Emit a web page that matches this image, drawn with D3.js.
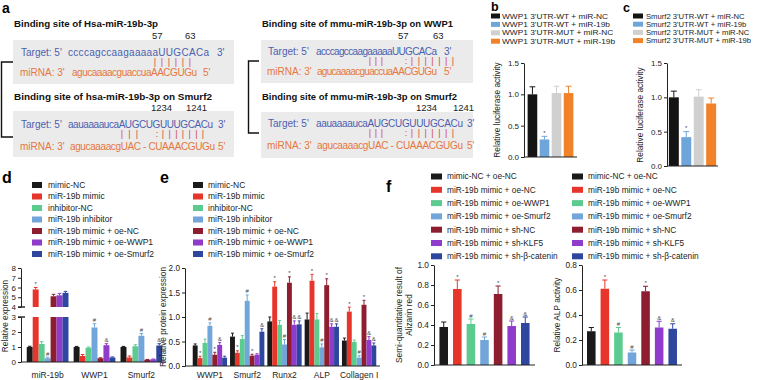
<!DOCTYPE html>
<html><head><meta charset="utf-8">
<script src="https://cdn.jsdelivr.net/npm/d3@7"></script>
<style>body{margin:0;background:#fff}svg{display:block;font-family:Arial,"Liberation Sans",Helvetica,sans-serif}</style>
</head><body><svg id="chart" width="759" height="380"></svg>
<script>
// ---------------- DATA ----------------
// Panel a (binding sites)
const aTitles = ["Binding site of Hsa-miR-19b-3p","Binding site of hsa-miR-19b-3p on Smurf2","Binding site of mmu-miR-19b-3p on WWP1","Binding site of mmu-miR-19b-3p on Smurf2"];
const aPositions = [["57","63"],["1234","1241"],["57","63"],["1234","1241"]];
const aTargets = ["ccccagccaagaaaaaUUGCACa","aauaaaaucaAUGCUGUUUGCACu","acccagccaagaaaaaUUGCACa","aauaaaaucaAUGCUGUUUGCACu"];
const aMirnas = ["agucaaaacguaccuaAACGUGu","agucaaaacgUAC - CUAAACGUGu","agucaaaacguaccuaAACGUGu","agucaaaacgUAC - CUAAACGUGu"];
const aPairs = ["||||||","||| :|||||||","||| :|||||||","||| :|||||||"];

// Panel b / c (luciferase)
const bLegend = ["WWP1 3'UTR-WT + miR-NC","WWP1 3'UTR-WT + miR-19b","WWP1 3'UTR-MUT + miR-NC","WWP1 3'UTR-MUT + miR-19b"];
const bValues = [1.00, 0.28, 1.02, 1.02];
const bErrors = [0.12, 0.05, 0.11, 0.11];
const bSig = ["", "*", "", ""];
const cLegend = ["Smurf2 3'UTR-WT + miR-NC","Smurf2 3'UTR-WT + miR-19b","Smurf2 3'UTR-MUT + miR-NC","Smurf2 3'UTR-MUT + miR-19b"];
const cValues = [1.00, 0.42, 1.01, 0.91];
const cErrors = [0.09, 0.08, 0.10, 0.08];
const cSig = ["", "*", "", ""];
const lucTicks = [0, 0.5, 1.0, 1.5];

// Panel d (relative expression)
const dGroups = ["miR-19b","WWP1","Smurf2"];
const dSeries = ["mimic-NC","miR-19b mimic","inhibitor-NC","miR-19b inhibitor","miR-19b mimic + oe-NC","miR-19b mimic + oe-WWP1","miR-19b mimic + oe-Smurf2"];
const dMiR19b = [1.00, 5.80, 1.20, 0.25, 5.10, 5.20, 5.45];
const dMiR19bErr = [0.05, 0.20, 0.15, 0.07, 0.20, 0.20, 0.15];
const dMiR19bSig = ["", "*", "", "#", "", "", ""];
const dWWP1 = [1.00, 0.40, 0.95, 2.30, 0.25, 1.12, 0.30];
const dWWP1Err = [0.04, 0.10, 0.05, 0.25, 0.03, 0.10, 0.04];
const dWWP1Sig = ["", "", "", "#", "", "&", ""];
const dSmurf2 = [1.00, 0.30, 1.05, 1.75, 0.15, 0.18, 1.10];
const dSmurf2Err = [0.04, 0.10, 0.10, 0.15, 0.02, 0.02, 0.12];
const dSmurf2Sig = ["", "", "", "#", "", "", "&"];
const dTicksLow = [0, 1, 2, 3];
const dTicksHigh = [4, 5, 6, 7, 8];

// Panel e (relative protein expression)
const eGroups = ["WWP1","Smurf2","Runx2","ALP","Collagen I"];
const eSeries = dSeries;
const eWWP1 = [0.42, 0.16, 0.47, 0.82, 0.23, 0.43, 0.17];
const eWWP1Err = [0.03, 0.04, 0.08, 0.06, 0.05, 0.05, 0.03];
const eWWP1Sig = ["", "*", "", "#", "*", "&", ""];
const eSmurf2 = [0.60, 0.27, 0.55, 1.33, 0.21, 0.23, 0.70];
const eSmurf2Err = [0.07, 0.04, 0.07, 0.12, 0.03, 0.02, 0.06];
const eSmurf2Sig = ["", "*", "", "#", "*", "", "&"];
const eRunx2 = [0.91, 1.62, 0.84, 0.44, 1.70, 0.84, 0.85];
const eRunx2Err = [0.09, 0.10, 0.09, 0.10, 0.12, 0.08, 0.07];
const eRunx2Sig = ["", "*", "", "#", "*", "&", "&"];
const eALP = [0.95, 1.74, 0.95, 0.38, 1.65, 0.80, 0.80];
const eALPErr = [0.13, 0.13, 0.12, 0.07, 0.13, 0.06, 0.06];
const eALPSig = ["", "*", "", "#", "*", "&", "&"];
const eCollagen = [0.52, 1.11, 0.49, 0.17, 1.25, 0.53, 0.42];
const eCollagenErr = [0.05, 0.09, 0.04, 0.04, 0.09, 0.07, 0.05];
const eCollagenSig = ["", "*", "", "#", "*", "&", "&"];
const eTicks = [0, 0.5, 1.0, 1.5, 2.0];

// Panel f
const fSeries = ["mimic-NC + oe-NC","miR-19b mimic + oe-NC","miR-19b mimic + oe-WWP1","miR-19b mimic + oe-Smurf2","miR-19b mimic + sh-NC","miR-19b mimic + sh-KLF5","miR-19b mimic + sh-\u03b2-catenin"];
const fAlizarin = [0.38, 0.76, 0.41, 0.25, 0.71, 0.39, 0.42];
const fAlizarinErr = [0.05, 0.09, 0.05, 0.03, 0.08, 0.05, 0.06];
const fAlizarinSig = ["", "*", "#", "#", "*", "&", "&"];
const fALP = [0.27, 0.61, 0.26, 0.10, 0.59, 0.30, 0.29];
const fALPErr = [0.03, 0.07, 0.04, 0.02, 0.04, 0.05, 0.04];
const fALPSig = ["", "*", "#", "#", "*", "&", "&"];
const fTicksA = [0, 0.2, 0.4, 0.6, 0.8, 1.0];
const fTicksB = [0, 0.2, 0.4, 0.6, 0.8];

// ---------------- STYLE ----------------
const PAL = ["#1a1a1a","#e8352b","#5ccb8f","#72a6db","#8d1d2f","#8f3bcc","#2e479e"];
const LUC = ["#141414","#6ea5da","#d0d0d0","#f28227"];
const FONT = 'Arial, "Liberation Sans", Helvetica, sans-serif';
const INK = "#222";
const svg = d3.select("#chart");
const fmt1 = d3.format(".1f");

function txt(x, y, s, fs, opts = {}) {
  const t = svg.append("text").attr("x", x).attr("y", y).attr("font-size", fs)
    .attr("fill", opts.fill || INK).attr("font-family", FONT).text(s);
  if (opts.bold) t.attr("font-weight", "bold");
  if (opts.anchor) t.attr("text-anchor", opts.anchor);
  if (opts.dy !== undefined) t.attr("dy", opts.dy);
  if (opts.len) t.attr("textLength", opts.len).attr("lengthAdjust", "spacing");
  if (opts.stretch) {
    const L = t.node().getComputedTextLength();
    t.attr("textLength", L * opts.stretch).attr("lengthAdjust", "spacingAndGlyphs");
  }
  return t;
}
function legend(x, y0, dy, labels, colors, sw, sh, fs, tx, stretch) {
  labels.forEach((l, i) => {
    const cy = y0 + i * dy;
    svg.append("rect").attr("x", x).attr("y", cy - sh / 2).attr("width", sw).attr("height", sh).attr("fill", colors[i]);
    txt(tx, cy, l, fs, {dy: "0.35em", stretch: stretch});
  });
}
function yAxis(x, scale, ticks, fmt, fs) {
  const g = svg.append("g").attr("transform", `translate(${x},0)`)
    .call(d3.axisLeft(scale).tickValues(ticks).tickFormat(fmt).tickSize(3).tickSizeOuter(0).tickPadding(2));
  g.selectAll("text").attr("font-size", fs).attr("font-family", FONT).attr("fill", INK);
  g.selectAll("line,path").attr("stroke", INK);
  return g;
}
function hLine(x0, x1, y) {
  svg.append("line").attr("x1", x0).attr("x2", x1).attr("y1", y).attr("y2", y).attr("stroke", INK);
}
function yLabel(x, y, lines, fs) {
  const t = svg.append("text").attr("transform", `translate(${x},${y}) rotate(-90)`)
    .attr("text-anchor", "middle").attr("font-size", fs).attr("font-family", FONT).attr("fill", INK);
  lines.forEach((l, i) => t.append("tspan").attr("x", 0).attr("dy", i === 0 ? (0.35 - (lines.length - 1) * 0.6) + "em" : "1.2em").text(l));
}
function bar(x, w, yTop, yBot, color) {
  svg.append("rect").attr("x", x).attr("y", yTop).attr("width", w).attr("height", Math.max(0, yBot - yTop)).attr("fill", color);
}
function errBar(cx, y0, y1, cap, color, sig) {
  svg.append("line").attr("x1", cx).attr("x2", cx).attr("y1", y0).attr("y2", y1).attr("stroke", color).attr("stroke-width", 1);
  svg.append("line").attr("x1", cx - cap / 2).attr("x2", cx + cap / 2).attr("y1", y1).attr("y2", y1).attr("stroke", color).attr("stroke-width", 1);
  if (sig) txt(cx, y1 - 1.5, sig, 6, {anchor: "middle", fill: "#444"});
}
function simpleBars(xs, ys, labels, values, errors, colors, sig) {
  labels.forEach((l, i) => {
    const x = xs(l), w = xs.bandwidth(), v = values[i];
    bar(x, w, ys(v), ys(0), colors[i]);
    errBar(x + w / 2, ys(v), ys(v + errors[i]), w * 0.6, colors[i], sig[i]);
  });
}

// ---------------- PANEL a ----------------
txt(2, 13, "a", 14, {bold: true, fill: "#000"});
const aLayout = [
  {bx: 13, bw: 221, by: 40, bh: 44, tx: 14, ty: 24, tw: 144, ny: 36, nums: [152, 185], ly: 52, my: 72, py: 62, lab: [21, 20], tgt: [68, 141], t3: 217, mir: [72, 125], m5: 203,
   segs: [[155, 190]]},
  {bx: 13, bw: 221, by: 111, bh: 46, tx: 14, ty: 97, tw: 198, ny: 108, nums: [151, 186], ly: 124, my: 146, py: 134, lab: [21, 20], tgt: [68, 145], t3: 218, mir: [70, 145], m5: 218,
   segs: [[122, 137], [157, 157], [163, 203]]},
  {bx: 261, bw: 212, by: 40, bh: 43, tx: 262, ty: 24, tw: 191, ny: 36, nums: [398, 433], ly: 51, my: 71, py: 61, lab: [268, 267], tgt: [316, 121], t3: 444, mir: [317, 120], m5: 444,
   segs: [[370, 382], [406, 406], [412, 453]]},
  {bx: 261, bw: 212, by: 112, bh: 46, tx: 262, ty: 97, tw: 195, ny: 108, nums: [416, 453], ly: 123, my: 145, py: 133, lab: [268, 267], tgt: [316, 147], t3: 467, mir: [317, 146], m5: 467,
   segs: [[370, 382], [406, 406], [412, 453]]}
];
const BLUE_T = "#4d5fae", ORANGE_T = "#e5773f", RED_P = "#cf4a3e";
aLayout.forEach((L, k) => {
  svg.append("rect").attr("x", L.bx).attr("y", L.by).attr("width", L.bw).attr("height", L.bh).attr("fill", "#ebebeb");
  const tt = txt(L.tx, L.ty, aTitles[k], 9.6, {bold: true, fill: "#111", dy: "0.35em"});
  tt.attr("textLength", L.tw).attr("lengthAdjust", "spacingAndGlyphs");
  aPositions[k].forEach((p, j) => txt(L.nums[j], L.ny, p, 9.5, {fill: "#222", dy: "0.35em"}));
  txt(L.lab[0], L.ly, "Target: 5'", 10, {fill: BLUE_T, dy: "0.35em"});
  txt(L.tgt[0], L.ly, aTargets[k], 10, {fill: BLUE_T, dy: "0.35em", len: L.tgt[1]});
  txt(L.t3, L.ly, "3'", 10, {fill: BLUE_T, dy: "0.35em"});
  txt(L.lab[1], L.my, "miRNA: 3'", 10, {fill: ORANGE_T, dy: "0.35em"});
  txt(L.mir[0], L.my, aMirnas[k], 10, {fill: ORANGE_T, dy: "0.35em", len: L.mir[1]});
  txt(L.m5, L.my, "5'", 10, {fill: ORANGE_T, dy: "0.35em"});
  const groups = aPairs[k].split(/(?=:)|(?<=:)|\s+/).filter(s => s.length);
  groups.forEach((g, gi) => {
    const seg = L.segs[gi];
    const n = g.length;
    for (let i = 0; i < n; i++) {
      const x = n === 1 ? seg[0] : seg[0] + (seg[1] - seg[0]) * i / (n - 1);
      txt(x, L.py, g[i], 9, {fill: RED_P, anchor: "middle", dy: "0.35em"});
    }
  });
});
function bracket(x, x2, y0, y1) {
  svg.append("path").attr("d", `M${x2},${y0}H${x}V${y1}H${x2}`).attr("fill", "none").attr("stroke", "#111").attr("stroke-width", 1.4);
}
bracket(1.5, 13, 62, 137);
bracket(248.5, 259, 61, 133);

// ---------------- PANEL b ----------------
txt(491, 11, "b", 12.5, {bold: true, fill: "#000"});
legend(491, 16, 8.4, bLegend, LUC, 9, 5, 7.3, 502, 1.14);
{
  const ys = d3.scaleLinear().domain([0, 1.5]).range([157, 63]);
  const xs = d3.scaleBand().domain(bLegend).range([524, 577]).paddingInner(0.2).paddingOuter(0.3);
  simpleBars(xs, ys, bLegend, bValues, bErrors, LUC, bSig);
  yAxis(524, ys, lucTicks, fmt1, 8);
  hLine(524, 577, 157);
  yLabel(497, 110, ["Relative luciferase activity"], 8.3);
}
// ---------------- PANEL c ----------------
txt(623, 12, "c", 12.5, {bold: true, fill: "#000"});
legend(633, 16, 8.2, cLegend, LUC, 10, 5, 7.3, 646, 1.05);
{
  const ys = d3.scaleLinear().domain([0, 1.5]).range([166, 63]);
  const xs = d3.scaleBand().domain(cLegend).range([667, 718]).paddingInner(0.2).paddingOuter(0.15);
  simpleBars(xs, ys, cLegend, cValues, cErrors, LUC, cSig);
  yAxis(667, ys, lucTicks, fmt1, 8);
  hLine(667, 718, 166);
  yLabel(640, 115, ["Relative luciferase activity"], 8.3);
}

// ---------------- grouped bars helper ----------------
function groupedBars(xg, groups, data, errs, sigs, yTopFn, segFn) {
  const xi = d3.scaleBand().domain(d3.range(7)).range([0, xg.bandwidth()]).padding(0);
  groups.forEach((g, gi) => {
    data[gi].forEach((v, i) => {
      const x = xg(g) + xi(i), w = xi.bandwidth();
      segFn(v).forEach(s => bar(x, w, s[0], s[1], PAL[i]));
      errBar(x + w / 2, yTopFn(v), yTopFn(v + errs[gi][i]), w * 0.6, PAL[i], sigs[gi][i]);
    });
  });
  groups.forEach(g => txt(xg(g) + xg.bandwidth() / 2, 378, g, 8.5, {anchor: "middle"}));
}

// ---------------- PANEL d ----------------
txt(2, 183, "d", 16, {bold: true, fill: "#000"});
legend(32, 185, 11.5, dSeries, PAL, 10, 6, 8.5, 48);
{
  const yLow = d3.scaleLinear().domain([0, 3]).range([362, 317]);
  const yHigh = d3.scaleLinear().domain([4, 8]).range([307, 268]);
  const yTop = v => v <= 3 ? yLow(v) : yHigh(Math.max(4, v));
  const seg = v => v <= 3 ? [[yLow(v), yLow(0)]] : [[yLow(3), yLow(0)], [yHigh(v), yHigh(4)]];
  const xg = d3.scaleBand().domain(dGroups).range([23, 166]).paddingInner(0.11).paddingOuter(0.08);
  groupedBars(xg, dGroups, [dMiR19b, dWWP1, dSmurf2], [dMiR19bErr, dWWP1Err, dSmurf2Err], [dMiR19bSig, dWWP1Sig, dSmurf2Sig], yTop, seg);
  yAxis(21, yLow, dTicksLow, d3.format("d"), 8);
  yAxis(21, yHigh, dTicksHigh, d3.format("d"), 8);
  [yLow(3), yHigh(4)].forEach(y => svg.append("line").attr("x1", 18).attr("x2", 25).attr("y1", y).attr("y2", y).attr("stroke", INK).attr("stroke-width", 1.4));
  hLine(21, 166, 362);
  yLabel(5, 316, ["Relative expression"], 8.3);
}

// ---------------- PANEL e ----------------
txt(160, 183, "e", 16, {bold: true, fill: "#000"});
legend(193, 185, 11.5, eSeries, PAL, 10, 6, 8.5, 208);
{
  const ys = d3.scaleLinear().domain([0, 2]).range([366, 268]);
  const xg = d3.scaleBand().domain(eGroups).range([189, 380]).paddingInner(0.08).paddingOuter(0.1);
  groupedBars(xg, eGroups, [eWWP1, eSmurf2, eRunx2, eALP, eCollagen],
    [eWWP1Err, eSmurf2Err, eRunx2Err, eALPErr, eCollagenErr],
    [eWWP1Sig, eSmurf2Sig, eRunx2Sig, eALPSig, eCollagenSig], v => ys(v), v => [[ys(v), ys(0)]]);
  yAxis(185, ys, eTicks, fmt1, 8.2);
  hLine(185, 380, 366);
  yLabel(163, 317, ["Relative protein expression"], 8.3);
}

// ---------------- PANEL f ----------------
txt(386, 192, "f", 16, {bold: true, fill: "#000"});
legend(431, 176.5, 13.3, fSeries, PAL, 11, 6, 8.3, 447);
legend(572, 176.5, 13.3, fSeries, PAL, 11, 6, 8.3, 588);
{
  const ys = d3.scaleLinear().domain([0, 1]).range([365, 265]);
  const xs = d3.scaleBand().domain(fSeries).range([434, 535]).paddingInner(0.37).paddingOuter(0.4);
  simpleBars(xs, ys, fSeries, fAlizarin, fAlizarinErr, PAL, fAlizarinSig);
  yAxis(434, ys, fTicksA, fmt1, 8.3);
  hLine(434, 535, 365);
  yLabel(404, 315, ["Semi-quantitative result of", "Alizarin red"], 8.3);
}
{
  const ys = d3.scaleLinear().domain([0, 0.8]).range([365, 265]);
  const xs = d3.scaleBand().domain(fSeries).range([582, 682]).paddingInner(0.37).paddingOuter(0.37);
  simpleBars(xs, ys, fSeries, fALP, fALPErr, PAL, fALPSig);
  yAxis(582, ys, fTicksB, fmt1, 8.3);
  hLine(582, 682, 365);
  yLabel(557, 315, ["Relative ALP activity"], 8.3);
}
</script></body></html>
